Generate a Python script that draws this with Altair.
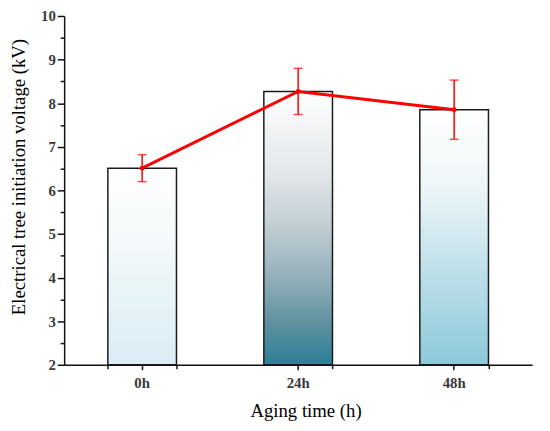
import altair as alt
import pandas as pd

categories = ["0h", "24h", "48h"]
voltage = [6.51, 8.27, 7.85]
error = [0.31, 0.53, 0.68]

df = pd.DataFrame({
    "time": categories,
    "v": voltage,
    "lo": [v - e for v, e in zip(voltage, error)],
    "hi": [v + e for v, e in zip(voltage, error)],
})

FONT = "Liberation Serif"

gradients = {
    "0h": [("#ffffff", 0.0), ("#f4f9fb", 0.35), ("#d9edf4", 1.0)],
    "24h": [("#ffffff", 0.0), ("#e2e7ea", 0.3), ("#c0cdd3", 0.5), ("#8eacb8", 0.7), ("#5d919f", 0.85), ("#2b7e96", 1.0)],
    "48h": [("#ffffff", 0.0), ("#eef6f8", 0.3), ("#c2e2eb", 0.6), ("#8dc9db", 1.0)],
}

xscale = alt.Scale(domain=categories, paddingInner=0.56, paddingOuter=0.28)
yscale = alt.Scale(domain=[2, 10], zero=False, nice=False)


def X(axis=None):
    return alt.X("time:N", scale=xscale, sort=categories, axis=axis)


def Y(field, axis=None):
    return alt.Y(field, scale=yscale, axis=axis)


x_axis = alt.Axis(title="Aging time (h)", labelAngle=0, tickSize=5,
                  labelPadding=6, titleX=245, titleY=47,
                  titleBaseline="middle", titleAlign="center", orient="bottom")
y_axis = alt.Axis(title="Electrical tree initiation voltage (kV)",
                  values=list(range(2, 11)), tickSize=7, labelPadding=2,
                  titleAngle=-90, titleX=-46, titleY=163,
                  titleBaseline="middle", titleAlign="center", orient="left")

base = alt.Chart(df)

bars = []
for i, cat in enumerate(categories):
    grad = alt.Gradient(
        gradient="linear",
        stops=[alt.GradientStop(color=c, offset=o) for c, o in gradients[cat]],
        x1=0, x2=0, y1=0, y2=1,
    )
    b = base.transform_filter(alt.datum.time == cat).mark_bar(
        color=grad, stroke="#1a1a1a", strokeWidth=1.5
    ).encode(
        x=X(x_axis if i == 0 else None),
        y=Y("v:Q", y_axis if i == 0 else None),
        y2=alt.datum(2),
    )
    bars.append(b)

# error bar stems, carrying the minor-tick axes
stems = base.mark_rule(color="red", strokeWidth=1.5).encode(
    x=X(alt.Axis(title=None, labels=False, domain=False, tickBand="extent",
                 tickSize=4, orient="bottom")),
    y=Y("lo:Q", alt.Axis(title=None, labels=False, domain=False, orient="left",
                         values=[2.5, 3.5, 4.5, 5.5, 6.5, 7.5, 8.5, 9.5], tickSize=4)),
    y2="hi:Q",
)

caps_hi = base.mark_tick(color="red", thickness=1.5, size=9, orient="horizontal").encode(
    x=X(), y=Y("hi:Q"),
)
caps_lo = base.mark_tick(color="red", thickness=1.5, size=9, orient="horizontal").encode(
    x=X(), y=Y("lo:Q"),
)

line = base.mark_line(color="#ff0000", strokeWidth=3).encode(x=X(), y=Y("v:Q"))
pts = base.mark_point(color="#ff0000", filled=True, size=25, opacity=1).encode(
    x=X(), y=Y("v:Q"))

chart = alt.layer(*bars, stems, caps_hi, caps_lo, line, pts).resolve_axis(
    x="independent", y="independent"
).properties(
    width=475, height=354,
    padding={"left": 57, "top": 5, "right": 10, "bottom": 56},
    autosize=alt.AutoSizeParams(type="none"),
).configure_view(stroke=None).configure_axis(
    domainColor="#111", domainWidth=1.5, tickColor="#111", tickWidth=1.5,
    labelFont=FONT, labelFontSize=15, labelFontWeight="bold", labelColor="#3a3a3a",
    titleFont=FONT, titleFontSize=19, titleFontWeight="normal", titleColor="#000",
    grid=False,
)

chart.save("out.html", embed_options={"renderer": "svg", "actions": False})
